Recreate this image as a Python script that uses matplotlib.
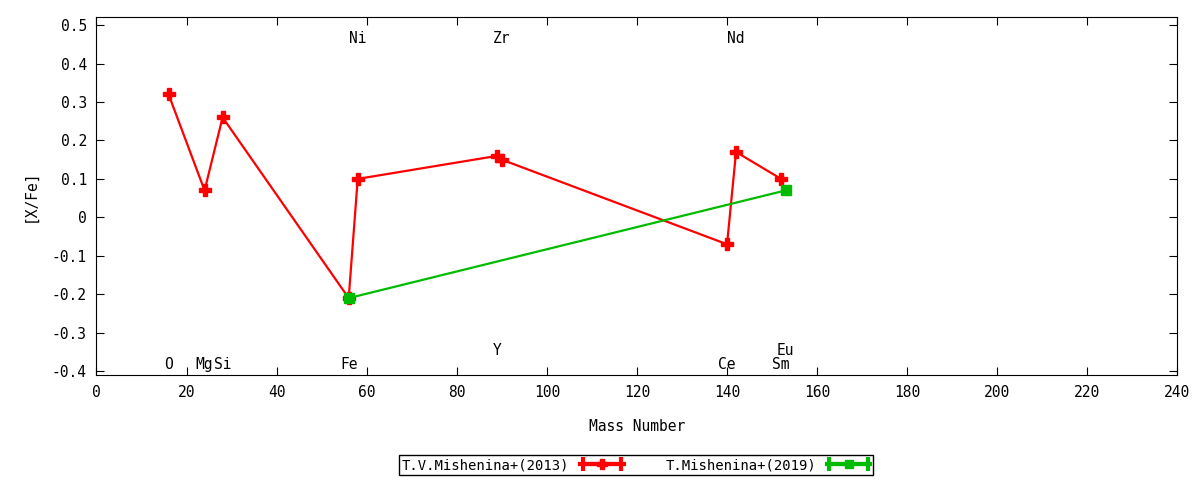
import numpy as np
import matplotlib.pyplot as plt
from matplotlib.ticker import FuncFormatter
from matplotlib.legend_handler import HandlerErrorbar

plt.rcParams['font.family'] = ['DejaVu Sans Mono', 'DejaVu Sans']
plt.rcParams['font.size'] = 10

# T.V.Mishenina+(2013)
mass_2013 = [16, 24, 28, 56, 58, 89, 90, 140, 142, 152]
xfe_2013 = [0.32, 0.07, 0.26, -0.21, 0.10, 0.16, 0.15, -0.07, 0.17, 0.10]

# T.Mishenina+(2019)
mass_2019 = [56, 153]
xfe_2019 = [-0.21, 0.07]

# element labels: name, mass, label height
elem_names = ['O', 'Mg', 'Si', 'Fe', 'Ni', 'Y', 'Zr', 'Ce', 'Nd', 'Sm', 'Eu']
elem_mass = [16, 24, 28, 56, 58, 89, 90, 140, 142, 152, 153]
elem_y = [-0.383, -0.383, -0.383, -0.383, 0.466, -0.346, 0.466, -0.383, 0.466, -0.383, -0.346]

fig = plt.figure(figsize=(12, 4.8), dpi=100)
ax = fig.add_axes([0.0804, 0.21875, 0.9008, 0.745])

ax.plot(mass_2013, xfe_2013, color='#ff0000', lw=1.6, marker='P', ms=8, zorder=3)
ax.plot(mass_2019, xfe_2019, color='#00bb00', lw=1.6, marker='s', ms=7, zorder=4)

# dummy errorbar handles for gnuplot-like legend samples
h1 = ax.errorbar([np.nan], [np.nan], xerr=[1], color='#ff0000', lw=3, marker='P', ms=7,
                 capsize=5, capthick=3, label='T.V.Mishenina+(2013)')
h2 = ax.errorbar([np.nan], [np.nan], xerr=[1], color='#00bb00', lw=3, marker='s', ms=6,
                 capsize=5, capthick=3, label='T.Mishenina+(2019)')

for name, m, y in zip(elem_names, elem_mass, elem_y):
    ax.text(m, y, name, ha='center', va='center', fontsize=10.5)

ax.set_xlim(0, 240)
ax.set_ylim(-0.41, 0.52)
ax.set_xticks(np.arange(0, 241, 20))
ax.set_yticks(np.round(np.arange(-0.4, 0.51, 0.1), 1))
ax.yaxis.set_major_formatter(FuncFormatter(lambda v, p: '0' if abs(v) < 1e-9 else f'{v:g}'))
ax.tick_params(direction='in', top=True, right=True, length=6, labelsize=10.5, pad=7)
ax.set_xlabel('Mass Number', fontsize=10.5, labelpad=14)
ax.set_ylabel('[X/Fe]', fontsize=10.5, labelpad=10)

fig.legend(handles=[h1, h2], loc='center', bbox_to_anchor=(0.53, 0.031), ncol=2,
           markerfirst=False, fancybox=False, edgecolor='black', framealpha=1,
           handlelength=3.1, columnspacing=3.0, borderpad=0.2, fontsize=10,
           handler_map={type(h1): HandlerErrorbar(xerr_size=1.4)})

fig.savefig('out.png', dpi=100)
